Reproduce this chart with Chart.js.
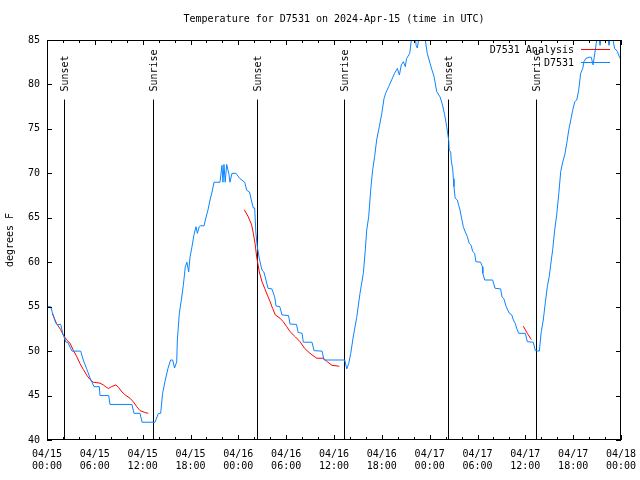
<!DOCTYPE html>
<html>
<head>
<meta charset="utf-8">
<script src="https://cdn.jsdelivr.net/npm/chart.js@4"></script>
<style>
  html, body { margin: 0; padding: 0; background: #fff; }
  canvas { display: block; }
</style>
</head>
<body>
<canvas id="temp-chart" width="640" height="480"></canvas>
<script>
// hours since 04/15 00:00 UTC
const blueHours = [0, 0.46, 0.72, 1.13, 1.3, 1.72, 1.97, 2.38, 2.6, 3.14, 4.23, 4.55, 4.98, 5.39, 5.9, 6.56, 6.65, 7.74, 7.9, 10.66,
  10.91, 11.67, 11.92, 13.55, 13.97, 14.26, 14.5, 14.84, 15.18, 15.5, 15.76, 16.0, 16.27, 16.35, 16.6, 16.85, 17.1, 17.35, 17.55, 17.77,
  17.94, 18.19, 18.44, 18.69, 18.86, 19.1, 19.28, 19.7, 19.86, 20.2, 20.45, 20.7, 20.95, 21.7, 21.95, 22.07, 22.2, 22.35, 22.54, 22.8,
  22.95, 23.2, 23.7, 24.2, 24.8, 25.05, 25.4, 25.63, 25.88, 26.05, 26.2, 26.38, 26.63, 26.97, 27.2, 27.47, 27.72, 28.2, 28.56, 28.73,
  29.2, 29.48, 30.3, 30.48, 31.3, 31.5, 32.0, 32.15, 33.24, 33.5, 34.5, 34.75, 37.35, 37.6, 37.85, 38.1, 38.43, 38.85, 39.26, 39.68,
  39.93, 40.1, 40.35, 40.6, 40.85, 41.1, 41.35, 41.68, 42.0, 42.27, 42.52, 42.86, 43.28, 43.6, 43.95, 44.2, 44.45, 44.7, 44.95, 45.1,
  45.5, 45.7, 45.85, 46.1, 46.3, 46.45, 46.7, 47.0, 47.3, 47.45, 47.7, 48.04, 48.3, 48.55, 48.88, 49.3, 49.55, 49.88, 50.14, 50.4,
  50.45, 50.64, 50.7, 50.9, 50.97, 51.05, 51.2, 51.47, 51.64, 51.8, 51.97, 52.22, 52.47, 52.72, 52.97, 53.2, 53.4, 53.64, 53.8, 54.4,
  54.6, 54.67, 54.9, 55.9, 56.2, 56.9, 57.07, 57.3, 57.6, 58.0, 58.3, 58.5, 58.75, 58.9, 59.17, 60.0, 60.25, 61.0, 61.25, 61.75,
  62.0, 62.25, 62.5, 62.76, 63.0, 63.18, 63.43, 63.68, 63.93, 64.2, 64.44, 64.7, 64.94, 65.2, 65.45, 65.7, 65.94, 66.2, 66.45, 66.7,
  66.94, 67.2, 67.35, 67.6, 68.0, 68.27, 68.5, 68.78, 68.95, 69.15, 69.37, 69.6, 69.9, 70.2, 70.5, 70.7, 70.96, 71.2, 71.55, 71.8, 72];
const blueTemps = [55, 55, 54.2, 53.1, 53, 53, 52, 51, 51, 50, 50, 49, 48, 47, 46, 46, 45, 45, 44, 44,
  43, 43, 42, 42, 43, 43, 45.25, 46.75, 48.07, 49, 49, 48.1, 48.8, 51.25, 54.25, 55.75, 57.4, 59.5, 60, 58.9,
  60.6, 61.75, 63.1, 64, 63.25, 64, 64.1, 64.1, 64.75, 65.9, 67, 67.9, 69, 69, 70.9, 69, 71, 69, 71, 70,
  69, 70, 70, 69.4, 69, 68.1, 67.9, 67, 66.1, 66.1, 63.3, 61.75, 60.4, 59.1, 58.9, 58, 57.07, 57, 56.1, 55.07,
  55, 54.07, 54, 53.05, 53, 52.1, 52, 51, 51, 50.05, 50, 49, 49, 48, 48.6, 49.75, 51.7, 53.8, 56.5, 58.75,
  61.4, 63.6, 65.1, 68.1, 70.4, 71.9, 73.75, 75.25, 76.75, 78.4, 79.1, 79.75, 80.6, 81.25, 81.8, 81.06, 82.2, 82.56, 82, 82.9,
  83.5, 85, 86.2, 86.5, 84.4, 84.1, 85.5, 86.5, 86, 85, 83.5, 82.4, 81.6, 80.9, 79.2, 78.6, 77.9, 76.6, 75.25, 73.6,
  72.6, 72.4, 71.5, 70.4, 69.4, 68.5, 67.2, 67, 66.4, 65.9, 65.1, 64, 63.4, 62.9, 62.1, 61.9, 61.2, 61, 60.06, 60,
  59.5, 58.75, 58, 58, 57.07, 57, 56.1, 55.9, 55, 54.25, 54.07, 53.5, 53.1, 52.6, 52, 52, 51.06, 51, 50.05, 50,
  52.2, 53.5, 55.4, 57.25, 58.4, 59.7, 61.4, 63.6, 65.3, 67.75, 70.2, 71.3, 72.06, 73.4, 74.9, 76, 77.1, 78.06, 78.25, 79.4,
  81.25, 81.8, 82.56, 82.94, 83.06, 83.06, 82.2, 83.9, 85, 86, 84.4, 86, 86.5, 86, 84.4, 86, 85.2, 84.06, 83.7, 83.1, 82.8];

// analysis series, null = gap
const redHours = [0.67, 0.96, 1.2, 1.72, 2.05, 2.47, 2.88, 3.3, 3.72, 4.14, 4.55, 4.98, 5.39, 5.8, 6.65, 7.06, 7.49, 7.74, 8.07, 8.66,
  8.99, 9.41, 9.82, 10.41, 10.83, 11.25, 11.67, 12.25, 12.7, 18,
  24.75, 25.25, 25.67, 25.88, 26.1, 26.3, 26.63, 26.97, 27.3, 27.64, 27.97, 28.3, 28.64, 29.23, 29.64, 30.07, 30.48, 31.15, 31.74, 32.32,
  32.99, 33.83, 34.66, 35.16, 35.75, 36.67, 48,
  59.75, 60.25, 60.75];
const redTemps = [54.25, 53.6, 53.1, 52.4, 51.8, 51.25, 50.9, 50.1, 49.4, 48.6, 47.95, 47.3, 46.8, 46.5, 46.4, 46.2, 45.9, 45.8, 46.0, 46.2,
  45.9, 45.4, 45.06, 44.7, 44.3, 43.75, 43.3, 43.1, 43.0, null,
  65.9, 65.1, 64.2, 63.25, 62.1, 60.6, 58.9, 57.8, 57.07, 56.3, 55.6, 54.8, 54.07, 53.7, 53.3, 52.75, 52.2, 51.6, 51.06, 50.3,
  49.75, 49.2, 49.2, 48.8, 48.4, 48.3, null,
  52.8, 52.0, 51.3];

const sunHours  = [2.16, 13.34, 26.3, 37.3, 50.34, 61.38];
const sunLabels = ['Sunset', 'Sunrise', 'Sunset', 'Sunrise', 'Sunset', 'Sunrise'];
const sunLineTop = 78.3; // degrees F, where the marker line stops

const xTickStep = 6;
const xMinorStep = 2;
const yTickStep = 5;
const startDay = 15;

const titleText = 'Temperature for D7531 on 2024-Apr-15 (time in UTC)';
const seriesNames = ['D7531 Analysis', 'D7531'];
const seriesColors = ['#ff0000', '#0a84ff'];

const FONT = '10px "DejaVu Sans Mono", monospace';

function pad2(n) { return (n < 10 ? '0' : '') + n; }

function toPoints(xs, ys) {
  return xs.map((x, i) => ({ x: x, y: ys[i] }));
}

// gnuplot-ish frame, inward ticks, sun markers, legend and title
const gnuplotDecor = {
  id: 'gnuplotDecor',
  beforeDatasetsDraw(chart) {
    const ctx = chart.ctx;
    const xs = chart.scales.x, ys = chart.scales.y;
    ctx.save();
    ctx.strokeStyle = '#000';
    ctx.lineWidth = 1;
    ctx.fillStyle = '#000';
    ctx.font = FONT;
    sunHours.forEach((h, i) => {
      const px = Math.round(xs.getPixelForValue(h)) + 0.5;
      ctx.beginPath();
      ctx.moveTo(px, ys.getPixelForValue(ys.min));
      ctx.lineTo(px, ys.getPixelForValue(sunLineTop));
      ctx.stroke();
      ctx.save();
      ctx.translate(px + 1, ys.getPixelForValue(sunLineTop) - 8);
      ctx.rotate(-Math.PI / 2);
      ctx.textAlign = 'left';
      ctx.textBaseline = 'middle';
      ctx.fillText(sunLabels[i], 0, 0);
      ctx.restore();
    });
    ctx.restore();
  },
  afterDatasetsDraw(chart) {
    const ctx = chart.ctx;
    const a = chart.chartArea;
    const xs = chart.scales.x, ys = chart.scales.y;
    ctx.save();
    ctx.strokeStyle = '#000';
    ctx.lineWidth = 1;
    // frame
    ctx.strokeRect(Math.round(a.left) + 0.5, Math.round(a.top) + 0.5,
      Math.round(a.right - a.left) - 1, Math.round(a.bottom - a.top) - 1);
    // x ticks (major + minor), bottom and top
    ctx.beginPath();
    for (let h = xs.min; h <= xs.max; h += xMinorStep) {
      const len = (h % xTickStep === 0) ? 5 : 3;
      const px = Math.round(xs.getPixelForValue(h)) + 0.5;
      ctx.moveTo(px, a.bottom);
      ctx.lineTo(px, a.bottom - len);
      ctx.moveTo(px, a.top);
      ctx.lineTo(px, a.top + len);
    }
    // y ticks, left and right
    ys.ticks.forEach(t => {
      const py = Math.round(ys.getPixelForValue(t.value)) + 0.5;
      ctx.moveTo(a.left, py);
      ctx.lineTo(a.left + 5, py);
      ctx.moveTo(a.right, py);
      ctx.lineTo(a.right - 5, py);
    });
    ctx.stroke();

    // legend, top right inside the plot
    ctx.font = FONT;
    ctx.fillStyle = '#000';
    ctx.textAlign = 'right';
    ctx.textBaseline = 'middle';
    seriesNames.forEach((name, i) => {
      const y = a.top + 10 + i * 13;
      ctx.fillText(name, a.right - 47, y);
      ctx.strokeStyle = seriesColors[i];
      ctx.beginPath();
      ctx.moveTo(a.right - 40, Math.round(y) - 0.5);
      ctx.lineTo(a.right - 11, Math.round(y) - 0.5);
      ctx.stroke();
    });

    // title
    ctx.textAlign = 'center';
    ctx.fillText(titleText, (a.left + a.right) / 2, 19);
    ctx.restore();
  }
};

function renderTempChart() {
  const ctx = document.getElementById('temp-chart').getContext('2d');

  new Chart(ctx, {
    type: 'line',
    data: {
      datasets: [
        {
          label: seriesNames[0],
          data: toPoints(redHours, redTemps),
          borderColor: seriesColors[0],
          borderWidth: 1,
          pointRadius: 0,
          spanGaps: false,
          tension: 0,
          order: 2
        },
        {
          label: seriesNames[1],
          data: toPoints(blueHours, blueTemps),
          borderColor: seriesColors[1],
          borderWidth: 1,
          pointRadius: 0,
          tension: 0,
          order: 1
        }
      ]
    },
    options: {
      responsive: false,
      animation: false,
      devicePixelRatio: 1,
      layout: { padding: { top: 40, right: 19, left: 0, bottom: 0 } },
      plugins: {
        legend: { display: false },
        title: { display: false },
        tooltip: { enabled: false }
      },
      scales: {
        x: {
          type: 'linear',
          min: 0,
          max: 72,
          grid: { display: false, drawTicks: false },
          border: { display: false },
          afterFit(scale) {
            scale.height = 40;
            scale.paddingLeft = 0;
            scale.paddingRight = 0;
          },
          ticks: {
            stepSize: xTickStep,
            autoSkip: false,
            maxRotation: 0,
            padding: 8,
            color: '#000',
            font: { family: '"DejaVu Sans Mono", monospace', size: 10, lineHeight: 1.2 },
            callback: function(value) {
              const day = startDay + Math.floor(value / 24);
              const hour = value % 24;
              return ['04/' + pad2(day), pad2(hour) + ':00'];
            }
          }
        },
        y: {
          min: 40,
          max: 85,
          grid: { display: false, drawTicks: false },
          border: { display: false },
          afterFit(scale) {
            scale.width = 47;
            scale.paddingTop = 0;
            scale.paddingBottom = 0;
          },
          ticks: {
            stepSize: yTickStep,
            padding: 7,
            color: '#000',
            font: { family: '"DejaVu Sans Mono", monospace', size: 10 }
          },
          title: {
            display: true,
            text: 'degrees F',
            color: '#000',
            padding: { top: 4, bottom: 4 },
            font: { family: '"DejaVu Sans Mono", monospace', size: 10 }
          }
        }
      }
    },
    plugins: [gnuplotDecor]
  });
}

if (document.readyState === 'loading') {
  document.addEventListener('DOMContentLoaded', renderTempChart);
} else {
  renderTempChart();
}
</script>
</body>
</html>
